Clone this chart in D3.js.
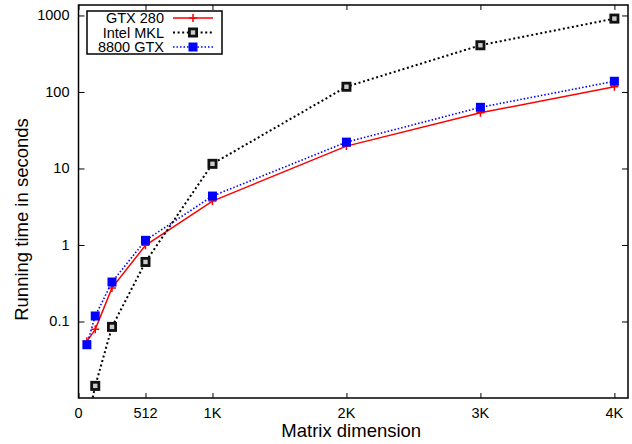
<!DOCTYPE html>
<html>
<head>
<meta charset="utf-8">
<script src="https://cdn.jsdelivr.net/npm/d3@7"></script>
<style>
  body { margin: 0; background: #fff; overflow: hidden; }
  svg { display: block; }
  text { font-family: "Liberation Sans", Arial, sans-serif; fill: #000; }
</style>
</head>
<body>
<svg></svg>
<script>
// Chart data
const sizes = [64, 128, 256, 512, 1024, 2048, 3072, 4096];
const gtx280 = [0.055, 0.079, 0.275, 0.99, 3.75, 19.6, 53.5, 117];
const intelMkl = [0.0045, 0.0144, 0.085, 0.6, 11.5, 117, 408, 910];
const gtx8800 = [0.0497, 0.118, 0.328, 1.15, 4.36, 22.1, 63, 138];
const xTicks = [0, 512, 1024, 2048, 3072, 4096];
const xTickLabels = ["0", "512", "1K", "2K", "3K", "4K"];
const yTicks = [0.1, 1, 10, 100, 1000];
const yTickLabels = ["0.1", "1", "10", "100", "1000"];

const width = 632;
const height = 444;

const svg = d3.select("svg").attr("width", width).attr("height", height);

const margin = { top: 5, right: 4, bottom: 46, left: 78.5 };
const innerWidth = width - margin.left - margin.right;
const innerHeight = height - margin.top - margin.bottom;

const xScale = d3.scaleLinear().domain([0, 4200]).range([0, innerWidth]);
const yScale = d3.scaleLog().domain([0.01, 1370]).range([innerHeight, 0]);

const g = svg.append("g").attr("transform", `translate(${margin.left}, ${margin.top})`);

// clip for the lines
g.append("clipPath").attr("id", "clip")
  .append("rect").attr("width", innerWidth).attr("height", innerHeight);

// Axes: tick marks inside, mirrored on the opposite side
const xAxis = d3.axisBottom(xScale).tickValues(xTicks).tickSize(-5);
const xAxisTop = d3.axisTop(xScale).tickValues(xTicks).tickSize(-5);
const yAxis = d3.axisLeft(yScale).tickValues(yTicks).tickSize(-6);
const yAxisRight = d3.axisRight(yScale).tickValues(yTicks).tickSize(-6);

const axisGroups = [
  g.append("g").attr("transform", `translate(0, ${innerHeight})`).call(xAxis),
  g.append("g").call(xAxisTop),
  g.append("g").call(yAxis),
  g.append("g").attr("transform", `translate(${innerWidth}, 0)`).call(yAxisRight)
];
axisGroups.forEach((a) => {
  a.select(".domain").remove();
  a.selectAll(".tick text").remove();
  a.selectAll(".tick line").attr("stroke", "#000").attr("stroke-width", 1);
});

// tick labels
g.append("g").selectAll("text")
  .data(xTicks)
  .enter()
  .append("text")
  .attr("x", (d) => xScale(d))
  .attr("y", innerHeight + 20)
  .attr("text-anchor", "middle")
  .attr("font-size", 14.5)
  .text((d, i) => xTickLabels[i]);

g.append("g").selectAll("text")
  .data(yTicks)
  .enter()
  .append("text")
  .attr("x", -9)
  .attr("y", (d) => yScale(d) + 5)
  .attr("text-anchor", "end")
  .attr("font-size", 14.5)
  .text((d, i) => yTickLabels[i]);

// frame
g.append("rect")
  .attr("width", innerWidth).attr("height", innerHeight)
  .attr("fill", "none").attr("stroke", "#000").attr("stroke-width", 1.5);

// Series
const series = [
  { name: "GTX 280", values: gtx280, color: "#ff0000", dash: null, width: 1.5, marker: "plus" },
  { name: "Intel MKL", values: intelMkl, color: "#000000", dash: "2,2.6", width: 2, marker: "open" },
  { name: "8800 GTX", values: gtx8800, color: "#0000ff", dash: "1.5,2", width: 1.6, marker: "filled" }
];

const drawMarker = (sel, kind, color, x, y) => {
  if (kind === "plus") {
    sel.append("path")
      .attr("d", `M${x - 4},${y}H${x + 4}M${x},${y - 4}V${y + 4}`)
      .attr("stroke", color).attr("stroke-width", 1.5).attr("fill", "none");
  } else if (kind === "open") {
    sel.append("rect")
      .attr("x", x - 3.6).attr("y", y - 3.6).attr("width", 7.2).attr("height", 7.2)
      .attr("fill", "#ccc").attr("stroke", "#111").attr("stroke-width", 2.8);
  } else {
    sel.append("rect")
      .attr("x", x - 4.5).attr("y", y - 4.5).attr("width", 9).attr("height", 9)
      .attr("fill", color);
  }
};

const lines = g.append("g").attr("clip-path", "url(#clip)");

series.forEach((s) => {
  const line = d3.line()
    .x((d, i) => xScale(sizes[i]))
    .y((d) => yScale(d));
  lines.append("path")
    .datum(s.values)
    .attr("d", line)
    .attr("fill", "none")
    .attr("stroke", s.color)
    .attr("stroke-width", s.width)
    .attr("stroke-dasharray", s.dash);
  const mg = lines.append("g");
  s.values.forEach((v, i) => drawMarker(mg, s.marker, s.color, xScale(sizes[i]), yScale(v)));
});

// Legend
const legend = svg.append("g");
legend.append("rect")
  .attr("x", 87).attr("y", 11).attr("width", 135).attr("height", 43)
  .attr("fill", "#fff").attr("stroke", "#000").attr("stroke-width", 1.5);
series.forEach((s, i) => {
  const y = 18 + i * 14.5;
  legend.append("text")
    .attr("x", 164).attr("y", y + 5)
    .attr("text-anchor", "end").attr("font-size", 14.5)
    .text(s.name);
  legend.append("line")
    .attr("x1", 173).attr("x2", 213).attr("y1", y).attr("y2", y)
    .attr("stroke", s.color).attr("stroke-width", s.width)
    .attr("stroke-dasharray", s.dash);
  drawMarker(legend, s.marker, s.color, 193, y);
});

// Axis titles
svg.append("text")
  .attr("x", margin.left + innerWidth / 2 - 2).attr("y", 437)
  .attr("text-anchor", "middle").attr("font-size", 18.5)
  .text("Matrix dimension");

svg.append("text")
  .attr("transform", `translate(28, ${margin.top + innerHeight / 2 + 18}) rotate(-90)`)
  .attr("text-anchor", "middle").attr("font-size", 18.5)
  .text("Running time in seconds");
</script>
</body>
</html>
